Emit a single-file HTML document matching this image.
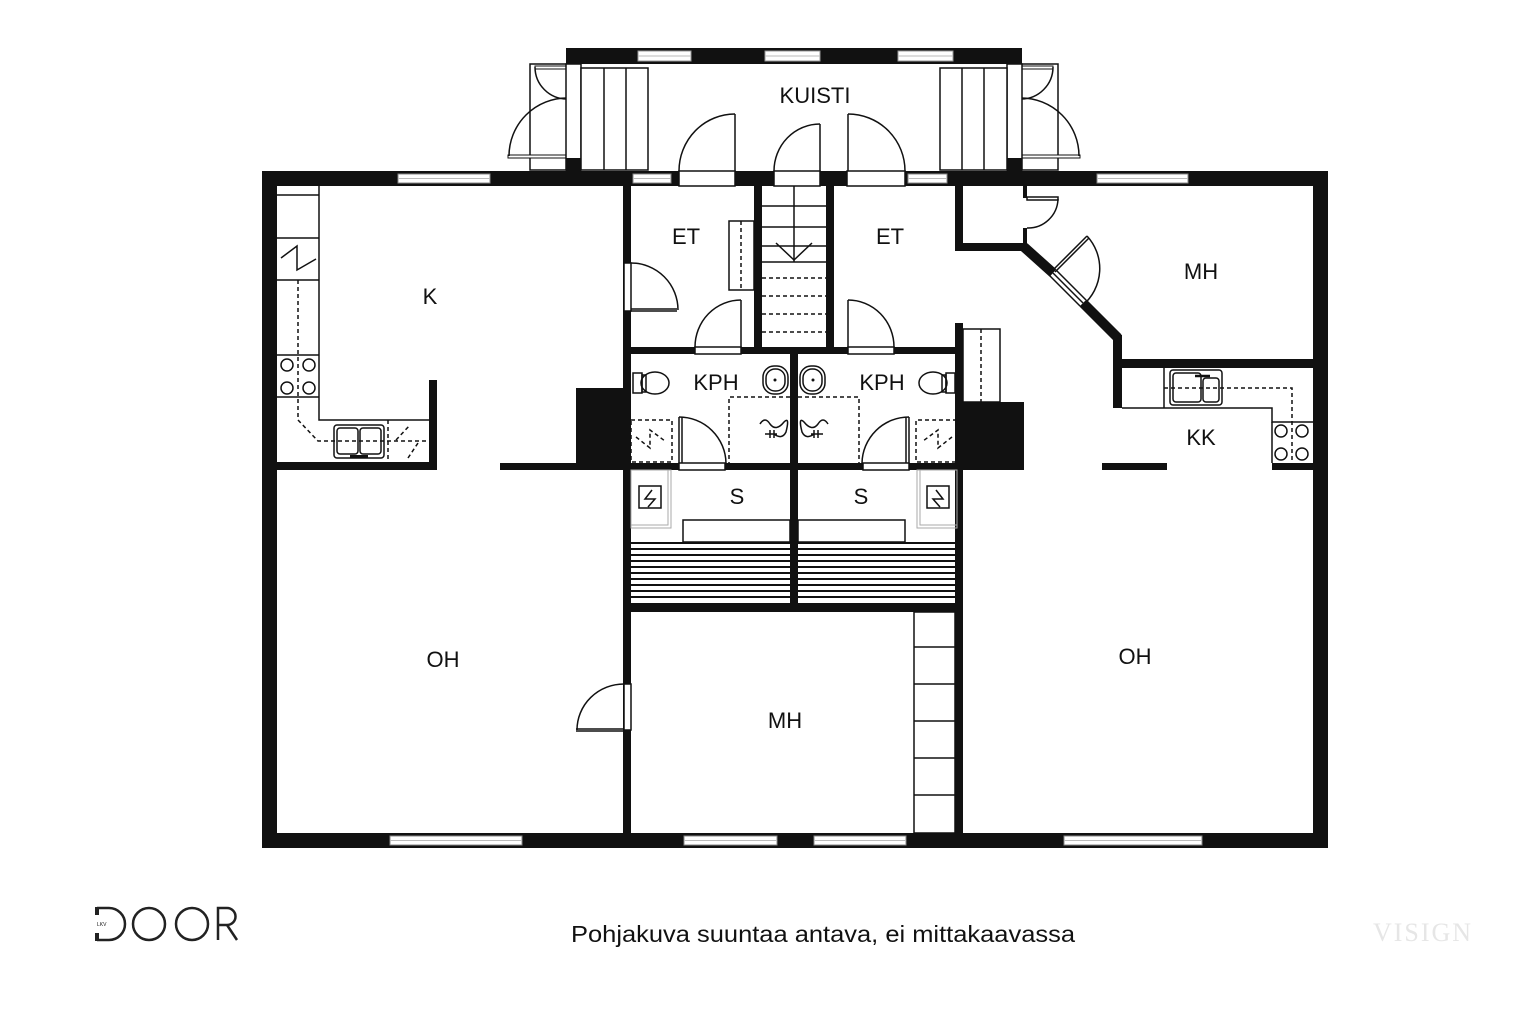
<!DOCTYPE html>
<html><head><meta charset="utf-8"><style>
html,body{margin:0;padding:0;background:#fff}
svg{display:block}
text{font-family:"Liberation Sans",sans-serif;fill:#111}
</style></head><body>
<svg width="1536" height="1024" viewBox="0 0 1536 1024" xmlns="http://www.w3.org/2000/svg">
<rect width="1536" height="1024" fill="#fff"/>

<g id="kuistiSide">
  <rect x="530" y="64" width="37" height="106" fill="none" stroke="#111" stroke-width="1.5"/>
  <rect x="535" y="66" width="32" height="3" fill="#fff" stroke="#111" stroke-width="1"/>
  <path d="M535 67 A32 32 0 0 0 567 99" fill="none" stroke="#111" stroke-width="1.5"/>
  <rect x="567" y="97" width="15" height="4" fill="#111"/>
  <rect x="508" y="155" width="59" height="3" fill="#fff" stroke="#111" stroke-width="1"/>
  <path d="M509 156 A58 58 0 0 1 567 98" fill="none" stroke="#111" stroke-width="1.5"/>
  <rect x="566" y="64" width="15" height="106" fill="#fff" stroke="#111" stroke-width="1.5"/>
  <rect x="566" y="158" width="15" height="13" fill="#111"/>
  <rect x="581" y="68" width="67" height="102" fill="#fff" stroke="#111" stroke-width="1.5"/>
  <line x1="604" y1="68" x2="604" y2="170" stroke="#111" stroke-width="1.5"/>
  <line x1="626" y1="68" x2="626" y2="170" stroke="#111" stroke-width="1.5"/>
</g>
<use href="#kuistiSide" transform="translate(1588,0) scale(-1,1)"/>

<rect x="566" y="48" width="456" height="16" fill="#111"/>
<g fill="#fff" stroke="#999" stroke-width="1">
  <rect x="638" y="51" width="53" height="10"/>
  <rect x="765" y="51" width="55" height="10"/>
  <rect x="898" y="51" width="55" height="10"/>
</g>
<g stroke="#bbb" stroke-width="1"><line x1="638" y1="56" x2="691" y2="56"/><line x1="765" y1="56" x2="820" y2="56"/><line x1="898" y1="56" x2="953" y2="56"/></g>
<text x="815" y="103" font-size="22" text-anchor="middle">KUISTI</text>

<rect x="262" y="171" width="1066" height="15" fill="#111"/>
<rect x="262" y="171" width="15" height="677" fill="#111"/>
<rect x="1313" y="171" width="15" height="677" fill="#111"/>
<rect x="262" y="833" width="1066" height="15" fill="#111"/>

<g fill="#fff" stroke="#888" stroke-width="1">
  <rect x="398" y="174" width="92" height="9"/>
  <rect x="633" y="174" width="38" height="9"/>
  <rect x="908" y="174" width="39" height="9"/>
  <rect x="1097" y="174" width="91" height="9"/>
  <rect x="390" y="836" width="132" height="9"/>
  <rect x="684" y="836" width="93" height="9"/>
  <rect x="814" y="836" width="92" height="9"/>
  <rect x="1064" y="836" width="138" height="9"/>
</g>
<g stroke="#bbb" stroke-width="1">
  <line x1="398" y1="178.5" x2="490" y2="178.5"/><line x1="633" y1="178.5" x2="671" y2="178.5"/>
  <line x1="908" y1="178.5" x2="947" y2="178.5"/><line x1="1097" y1="178.5" x2="1188" y2="178.5"/>
  <line x1="390" y1="840.5" x2="522" y2="840.5"/><line x1="684" y1="840.5" x2="777" y2="840.5"/>
  <line x1="814" y1="840.5" x2="906" y2="840.5"/><line x1="1064" y1="840.5" x2="1202" y2="840.5"/>
</g>

<g stroke="#111" stroke-width="1.5" fill="#fff">
  <rect x="679" y="171" width="56" height="15"/>
  <rect x="774" y="171" width="46" height="15"/>
  <rect x="847" y="171" width="58" height="15"/>
</g>
<g stroke="#111" stroke-width="1.5" fill="none">
  <line x1="735" y1="171" x2="735" y2="114"/><path d="M735 114 A56 57 0 0 0 679 171"/>
  <line x1="820" y1="171" x2="820" y2="124"/><path d="M820 124 A46 47 0 0 0 774 171"/>
  <line x1="848" y1="171" x2="848" y2="114"/><path d="M848 114 A57 57 0 0 1 905 171"/>
</g>

<g fill="#111">
  <rect x="623" y="186" width="8" height="647"/>
  <rect x="754" y="186" width="8" height="165"/>
  <rect x="826" y="186" width="8" height="165"/>
  <rect x="623" y="347" width="340" height="7"/>
  <rect x="790" y="354" width="8" height="250"/>
  <rect x="955" y="323" width="8" height="510"/>
  <rect x="623" y="463" width="340" height="7"/>
  <rect x="623" y="603" width="340" height="9"/>
  <rect x="576" y="388" width="47" height="82"/>
  <rect x="963" y="402" width="61" height="68"/>
  <rect x="500" y="463" width="76" height="7"/>
  <rect x="262" y="462" width="175" height="8"/>
  <rect x="429" y="380" width="8" height="90"/>
  <rect x="955" y="186" width="8" height="65"/>
  <rect x="955" y="243" width="70" height="8"/>
  <rect x="1023" y="186" width="4" height="12"/>
  <rect x="1023" y="228" width="4" height="18"/>
  <rect x="1113" y="335" width="9" height="73"/>
  <rect x="1113" y="359" width="200" height="9"/>
  <rect x="1272" y="463" width="41" height="7"/>
  <rect x="1102" y="463" width="65" height="7"/>
</g>
<g stroke="#111" stroke-width="10" stroke-linecap="butt">
  <line x1="1024" y1="247" x2="1053" y2="273"/>
  <line x1="1083" y1="303" x2="1118" y2="338"/>
</g>
<line x1="1053" y1="273" x2="1083" y2="303" stroke="#111" stroke-width="1.5"/>
<line x1="1050" y1="276" x2="1080" y2="306" stroke="#111" stroke-width="1.5"/>
<line x1="1056" y1="270" x2="1086" y2="300" stroke="#111" stroke-width="1.5"/>
<g stroke="#111" stroke-width="1.5" fill="none">
  <line x1="1053" y1="270" x2="1087" y2="236"/>
  <line x1="1055" y1="272" x2="1089" y2="238"/>
  <path d="M1087 236 A48 48 0 0 1 1083 305"/>
  <rect x="1027" y="197" width="31" height="3"/>
  <path d="M1058 199 A30 30 0 0 1 1027 228"/>
</g>

<g stroke="#111" stroke-width="1.5" fill="none">
  <rect x="729" y="221" width="25" height="69"/>
  <line x1="741" y1="221" x2="741" y2="290" stroke-dasharray="4,3"/>
  <rect x="624" y="263" width="7" height="48" fill="#fff"/>
  <line x1="631" y1="309" x2="677" y2="309"/><line x1="631" y1="311" x2="677" y2="311"/>
  <path d="M631 263 A47 47 0 0 1 678 310"/>
  <rect x="695" y="347" width="46" height="7" fill="#fff"/>
  <line x1="741" y1="347" x2="741" y2="300"/>
  <path d="M741 300 A46 47 0 0 0 695 347"/>
  <rect x="848" y="347" width="46" height="7" fill="#fff"/>
  <line x1="848" y1="347" x2="848" y2="300"/>
  <path d="M848 300 A46 47 0 0 1 894 347"/>
</g>
<g stroke="#111" stroke-width="1.5" fill="none">
  <line x1="762" y1="227" x2="826" y2="227"/>
  <line x1="762" y1="262" x2="826" y2="262"/>
  <line x1="794" y1="186" x2="794" y2="262"/>
  <line x1="762" y1="206" x2="826" y2="206"/>
  <line x1="762" y1="246" x2="826" y2="246"/>
  <polyline points="776,243 794,260 812,243"/>
  <g stroke-dasharray="4,3">
    <line x1="762" y1="278" x2="826" y2="278"/>
    <line x1="762" y1="296" x2="826" y2="296"/>
    <line x1="762" y1="314" x2="826" y2="314"/>
    <line x1="762" y1="332" x2="826" y2="332"/>
  </g>
</g>
<text x="686" y="244" font-size="22" text-anchor="middle">ET</text>
<text x="890" y="244" font-size="22" text-anchor="middle">ET</text>

<g stroke="#111" stroke-width="1.5" fill="none">
  <rect x="963" y="329" width="37" height="73"/>
  <line x1="981" y1="329" x2="981" y2="402" stroke-dasharray="4,3"/>
</g>

<g id="kphL" stroke="#111" stroke-width="1.5" fill="none">
  <rect x="633" y="373" width="9" height="20"/>
  <ellipse cx="655" cy="383" rx="14" ry="11"/>
  <rect x="642" y="375" width="4" height="17"/>
  <rect x="631" y="420" width="41" height="42" stroke-dasharray="4,3"/>
  <polyline points="636,437 650,448 650,430 665,441" stroke-dasharray="4,3"/>
  <rect x="679" y="463" width="46" height="7" fill="#fff"/>
  <line x1="679" y1="463" x2="679" y2="417"/><line x1="682" y1="463" x2="682" y2="417"/>
  <path d="M679 417 A47 47 0 0 1 726 463"/>
  <rect x="763" y="366" width="25" height="28" rx="11"/>
  <rect x="766" y="369" width="19" height="22" rx="9"/>
  <polyline points="790,397 729,397 729,463" stroke-dasharray="4,3"/>
  <path d="M760 424 q5 -8 10 0 q6 8 14 -2 q6 -6 2 10 q-4 8 -12 2 M765 434 h12 M770 430 v8 M774 430 v8"/>
</g>
<use href="#kphL" transform="translate(1588,0) scale(-1,1)"/>
<circle cx="775" cy="380" r="1.5" fill="#111"/><circle cx="813" cy="380" r="1.5" fill="#111"/>
<text x="716" y="390" font-size="22" text-anchor="middle">KPH</text>
<text x="882" y="390" font-size="22" text-anchor="middle">KPH</text>

<g id="saunaL" stroke="#111" fill="none">
  <rect x="631" y="470" width="40" height="58" stroke="#aaa" stroke-width="1"/>
  <rect x="631" y="470" width="37" height="55" stroke="#aaa" stroke-width="1"/>
  <rect x="639" y="486" width="22" height="22" stroke-width="1.5"/>
  <polyline points="652,490 645,499 655,499 648,507" stroke-width="1.5"/>
  <rect x="683" y="520" width="107" height="22" stroke-width="1.5"/>
  <g stroke-width="2">
    <line x1="631" y1="543" x2="790" y2="543"/>
    <line x1="631" y1="549" x2="790" y2="549"/>
    <line x1="631" y1="555" x2="790" y2="555"/>
    <line x1="631" y1="561" x2="790" y2="561"/>
    <line x1="631" y1="567" x2="790" y2="567"/>
    <line x1="631" y1="573" x2="790" y2="573"/>
    <line x1="631" y1="579" x2="790" y2="579"/>
    <line x1="631" y1="585" x2="790" y2="585"/>
    <line x1="631" y1="591" x2="790" y2="591"/>
    <line x1="631" y1="597" x2="790" y2="597"/>
  </g>
</g>
<use href="#saunaL" transform="translate(1588,0) scale(-1,1)"/>
<text x="737" y="504" font-size="22" text-anchor="middle">S</text>
<text x="861" y="504" font-size="22" text-anchor="middle">S</text>

<g stroke="#111" stroke-width="1.5" fill="none">
  <rect x="914" y="612" width="41" height="221"/>
  <line x1="914" y1="647" x2="955" y2="647"/><line x1="914" y1="684" x2="955" y2="684"/>
  <line x1="914" y1="721" x2="955" y2="721"/><line x1="914" y1="758" x2="955" y2="758"/>
  <line x1="914" y1="795" x2="955" y2="795"/>
  <rect x="624" y="684" width="7" height="46" fill="#fff"/>
  <line x1="576" y1="729" x2="624" y2="729"/><line x1="576" y1="731" x2="624" y2="731"/>
  <path d="M624 684 A47 46 0 0 0 577 730"/>
</g>
<text x="785" y="728" font-size="22" text-anchor="middle">MH</text>

<g stroke="#111" stroke-width="1.5" fill="none">
  <polyline points="277,185 319,185 319,420 429,420"/>
  <line x1="277" y1="195" x2="319" y2="195"/>
  <line x1="277" y1="238" x2="319" y2="238"/>
  <line x1="277" y1="280" x2="319" y2="280"/>
  <line x1="277" y1="355" x2="319" y2="355"/>
  <line x1="277" y1="397" x2="319" y2="397"/>
  <polyline points="281,258 297,246 297,270 316,259"/>
  <circle cx="287" cy="365" r="6"/><circle cx="309" cy="365" r="6"/>
  <circle cx="287" cy="388" r="6"/><circle cx="309" cy="388" r="6"/>
  <polyline points="298,280 298,420 318,441 429,441" stroke-dasharray="4,3"/>
  <rect x="334" y="425" width="50" height="33" rx="3"/>
  <rect x="337" y="428" width="21" height="26" rx="3"/>
  <rect x="360" y="428" width="21" height="26" rx="3"/>
  <line x1="388" y1="420" x2="388" y2="462" stroke-dasharray="4,3"/>
  <line x1="396" y1="440" x2="410" y2="425" stroke-dasharray="4,3"/>
  <line x1="408" y1="458" x2="418" y2="443" stroke-dasharray="4,3"/>
</g>
<rect x="350" y="455" width="18" height="3" fill="#111"/>
<text x="430" y="304" font-size="22" text-anchor="middle">K</text>

<g stroke="#111" stroke-width="1.5" fill="none">
  <polyline points="1122,408 1272,408 1272,422 1313,422"/>
  <line x1="1272" y1="422" x2="1272" y2="463"/>
  <line x1="1164" y1="368" x2="1164" y2="408"/>
  <rect x="1170" y="370" width="52" height="35" rx="3"/>
  <rect x="1173" y="373" width="28" height="29" rx="3"/>
  <rect x="1203" y="378" width="16" height="24" rx="3"/>
  <polyline points="1164,388 1292,388 1292,465" stroke-dasharray="4,3"/>
  <circle cx="1281" cy="431" r="6"/><circle cx="1302" cy="431" r="6"/>
  <circle cx="1281" cy="454" r="6"/><circle cx="1302" cy="454" r="6"/>
</g>
<line x1="1195" y1="376" x2="1210" y2="376" stroke="#111" stroke-width="2.5"/>
<text x="1201" y="445" font-size="22" text-anchor="middle">KK</text>
<text x="1201" y="279" font-size="22" text-anchor="middle">MH</text>

<text x="443" y="667" font-size="22" text-anchor="middle">OH</text>
<text x="1135" y="664" font-size="22" text-anchor="middle">OH</text>

<g fill="none" stroke="#222" stroke-width="2.5">
  <path d="M97 908 h12 a16 16 0 0 1 0 32 h-12"/>
  <ellipse cx="149" cy="924" rx="16" ry="16"/>
  <ellipse cx="192" cy="924" rx="16" ry="16"/>
  <path d="M218 940 v-32 h9 a8 8 0 0 1 0 17 h-9 M227 925 l10 15"/>
</g>
<rect x="95" y="907" width="4" height="8" fill="#222"/><rect x="95" y="933" width="4" height="8" fill="#222"/>
<text x="97" y="926" font-size="5" fill="#777">LKV</text>
<text x="571" y="942" font-size="23" textLength="504" lengthAdjust="spacingAndGlyphs">Pohjakuva suuntaa antava, ei mittakaavassa</text>
<text x="1423" y="941" font-size="26" text-anchor="middle" style="font-family:'Liberation Serif',serif;fill:#e6e6e6;letter-spacing:2px">VISIGN</text>
</svg>
</body></html>
